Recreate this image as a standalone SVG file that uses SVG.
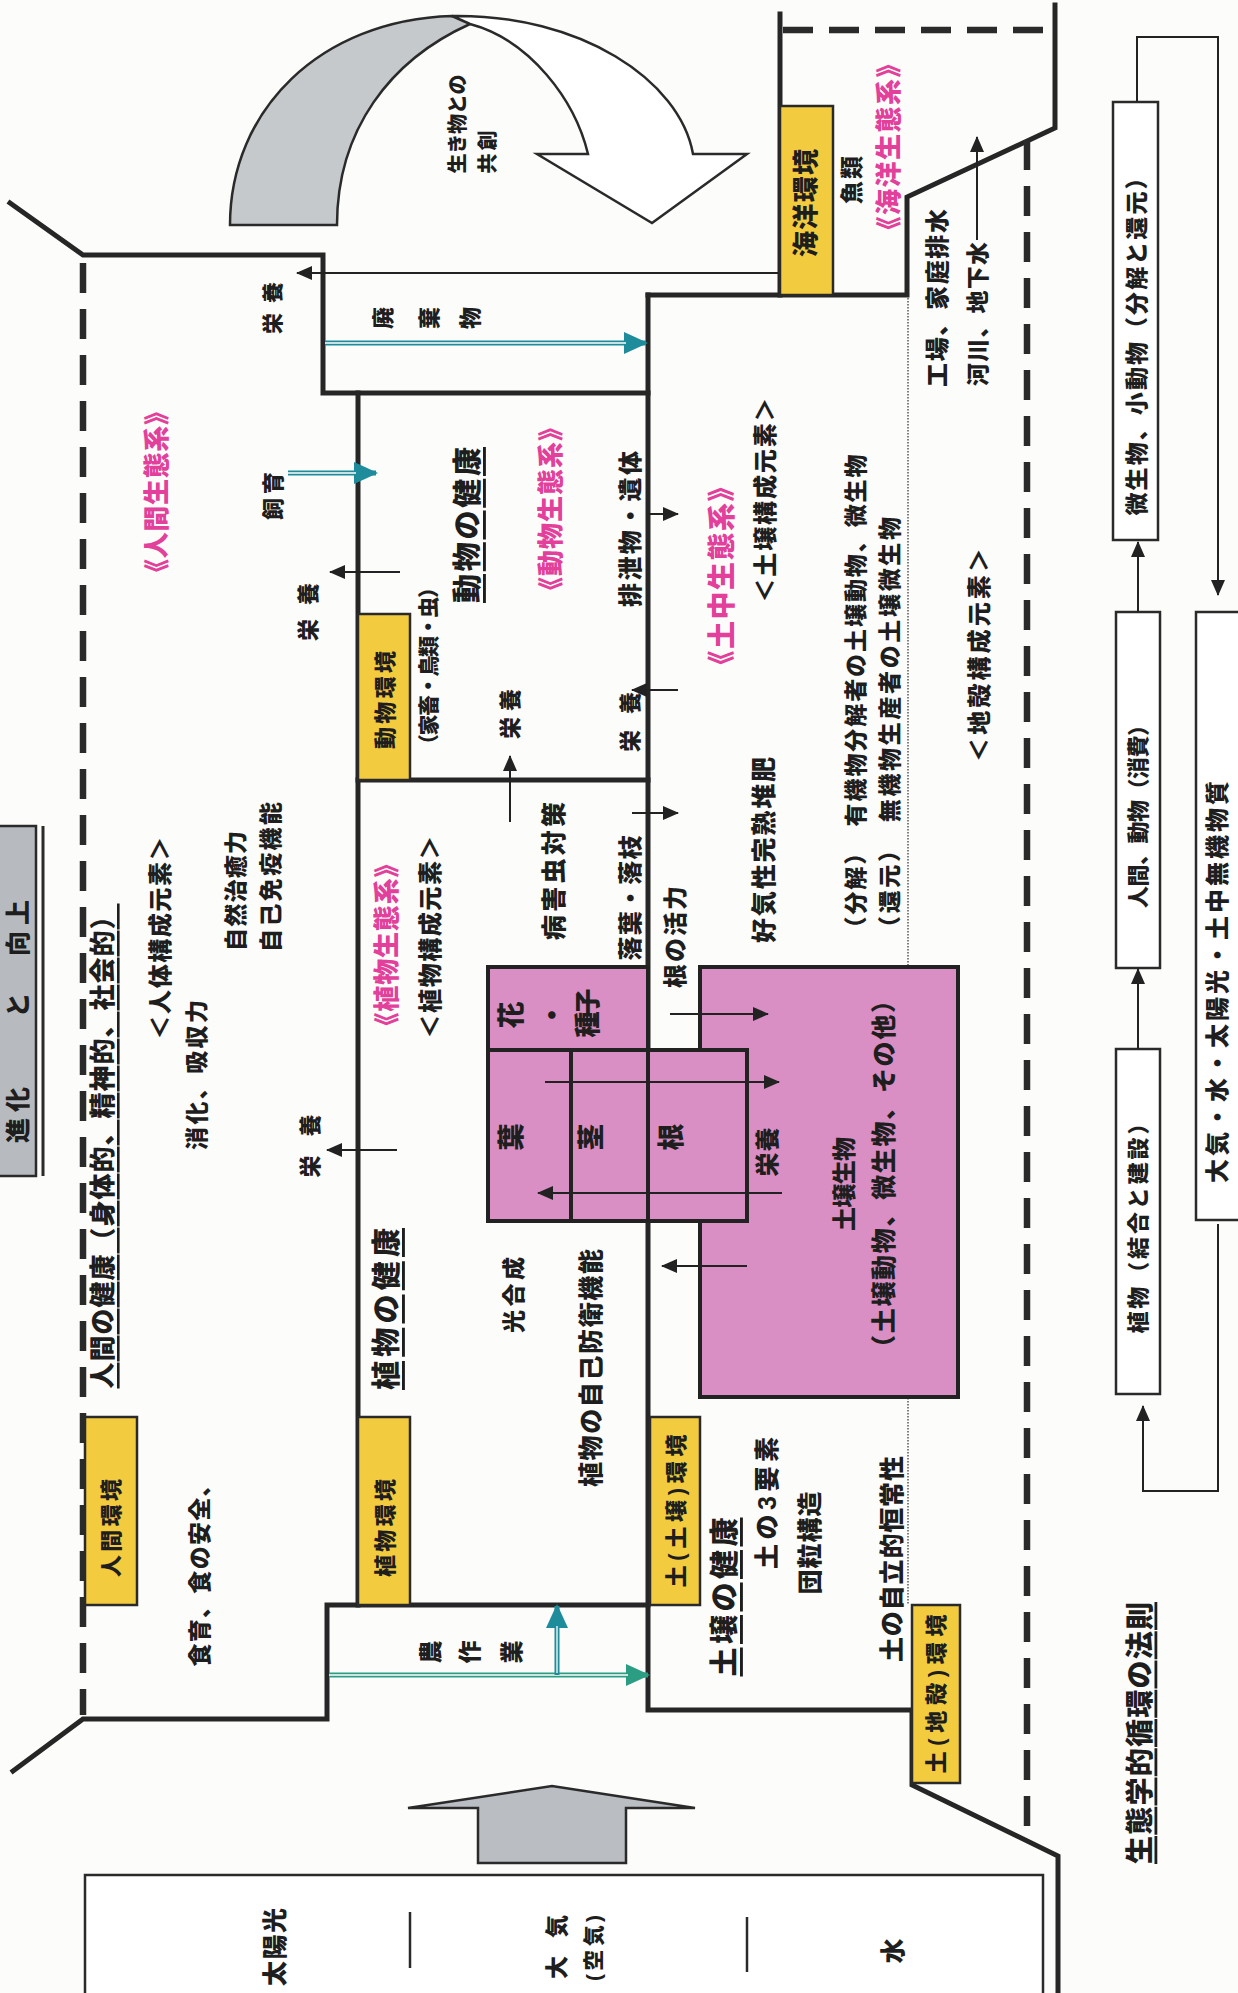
<svg xmlns="http://www.w3.org/2000/svg" width="1238" height="1993" viewBox="0 0 1238 1993">
<style>
.t{font-family:"Liberation Sans","Noto Sans CJK JP",sans-serif;font-weight:900;fill:#1e1e1e;text-anchor:middle;dominant-baseline:central}
.m{fill:#e2409a}
.u{text-decoration:underline}
.thick{fill:none;stroke:#262626;stroke-width:5;stroke-linejoin:miter;stroke-linecap:square}
.dash{fill:none;stroke:#2a2a2a;stroke-width:6.5;stroke-dasharray:30 16}
.dot{fill:none;stroke:#555;stroke-width:1.5;stroke-dasharray:1.5 1.5}
.yb{fill:#f2cb3f;stroke:#2a2a2a;stroke-width:2.5}
.pk{fill:#d98fc3;stroke:#222;stroke-width:4}
.wb{fill:#fff;stroke:#2a2a2a;stroke-width:2.5}
.ar{fill:none;stroke:#222;stroke-width:2;marker-end:url(#ah)}
.tl{fill:none;stroke:#1f8c9c;stroke-width:5;marker-end:url(#th)}
.gl{fill:none;stroke:#2a9d82;stroke-width:5;marker-end:url(#gh)}
.wl{fill:none;stroke:#fff;stroke-width:1.3}
</style>
<defs>
<marker id="ah" viewBox="0 0 16 14" refX="15" refY="7" markerWidth="16" markerHeight="14" markerUnits="userSpaceOnUse" orient="auto"><path d="M0,0 L16,7 L0,14 Z" fill="#222"/></marker>
<marker id="th" viewBox="0 0 24 22" refX="22" refY="11" markerWidth="24" markerHeight="22" markerUnits="userSpaceOnUse" orient="auto"><path d="M0,0 L24,11 L0,22 Z" fill="#1f8c9c"/></marker>
<marker id="gh" viewBox="0 0 24 22" refX="22" refY="11" markerWidth="24" markerHeight="22" markerUnits="userSpaceOnUse" orient="auto"><path d="M0,0 L24,11 L0,22 Z" fill="#2a9d82"/></marker>
</defs>
<rect width="1238" height="1993" fill="#fcfcfb"/>

<g id="curved-arrow">
<path d="M230,225 C230,110 320,20 452,16 C460,17 466,20 470,24 C390,60 337,130 337,225 Z" fill="#c5c9cc" stroke="#2a2a2a" stroke-width="2.5"/>
<path d="M452,16 C580,14 680,80 693,154 L747,154 L652,223 L537,154 L588,154 C575,100 530,40 470,24 Z" fill="#fff" stroke="#2a2a2a" stroke-width="2.5"/>
</g>

<g id="up-arrow">
<polygon points="408,1808 552,1786 695,1808 626,1808 626,1863 478,1863 478,1808" fill="#babec2" stroke="#2a2a2a" stroke-width="2.5"/>
</g>

<g id="evolution-box">
<rect x="-5" y="826" width="41" height="350" fill="#b7bbbf" stroke="#2a2a2a" stroke-width="2.5"/>
<line x1="43" y1="826" x2="43" y2="1176" stroke="#2a2a2a" stroke-width="3"/>
</g>

<g id="structure">
<path class="thick" d="M10,203 L83,255 L323,255 L323,393 L648,393"/>
<path class="thick" d="M358,393 L358,1605"/>
<path class="thick" d="M358,780 L648,780"/>
<path class="thick" d="M648,295 L648,1710 L912,1710 L912,1785 L1058,1856 L1058,1995"/>
<path class="thick" d="M648,295 L907,295 L907,197 L1055,128 L1055,5"/>
<path class="thick" d="M780,14 L780,295"/>
<path class="thick" d="M648,1605 L327,1605 L327,1719 L83,1719 L13,1771"/>
<path class="dash" d="M83,263 L83,1715"/>
<path class="dash" d="M1027,140 L1027,1842"/>
<path class="dash" d="M783,30 L1052,30"/>
<path class="dot" d="M908,298 L908,967 M908,1398 L908,1605"/>
</g>

<g id="env-boxes">
<rect id="human-env" class="yb" x="85" y="1417" width="52" height="188"/>
<rect id="plant-env" class="yb" x="358" y="1417" width="52" height="188"/>
<rect id="animal-env" class="yb" x="358" y="614" width="52" height="166"/>
<rect id="soil-env" class="yb" x="650" y="1417" width="50" height="188"/>
<rect id="crust-env" class="yb" x="912" y="1605" width="48" height="178"/>
<rect id="sea-env" class="yb" x="780" y="106" width="53" height="189"/>
</g>

<g id="pink-boxes">
<rect id="soil-organisms" class="pk" x="700" y="967" width="258" height="430"/>
<rect id="plant-parts" class="pk" x="488" y="967" width="160" height="254"/>
<rect id="root-box" class="pk" x="648" y="1050" width="99" height="171"/>
<line x1="488" y1="1050" x2="648" y2="1050" stroke="#222" stroke-width="4"/>
<line x1="571" y1="1050" x2="571" y2="1221" stroke="#222" stroke-width="4"/>
</g>

<g id="cycle-boxes">
<rect id="decomposers" class="wb" x="1113" y="102" width="45" height="438"/>
<rect id="consumers" class="wb" x="1116" y="612" width="44" height="356"/>
<rect id="producers" class="wb" x="1116" y="1049" width="44" height="345"/>
<rect id="abiotic" class="wb" x="1196" y="612" width="60" height="608"/>
</g>

<g id="source-box">
<rect class="wb" x="85" y="1875" width="958" height="130"/>
<line x1="410" y1="1912" x2="410" y2="1968" stroke="#2a2a2a" stroke-width="2.5"/>
<line x1="747" y1="1917" x2="747" y2="1972" stroke="#2a2a2a" stroke-width="2.5"/>
</g>

<g id="connectors">
<line class="ar" x1="778" y1="273" x2="297" y2="273"/>
<line class="ar" x1="400" y1="572" x2="330" y2="572"/>
<line class="ar" x1="397" y1="1150" x2="327" y2="1150"/>
<line class="ar" x1="510" y1="822" x2="510" y2="756"/>
<line class="ar" x1="678" y1="690" x2="632" y2="690"/>
<line class="ar" x1="648" y1="514" x2="678" y2="514"/>
<line class="ar" x1="632" y1="813" x2="678" y2="813"/>
<line class="ar" x1="670" y1="1014" x2="768" y2="1014"/>
<line class="ar" x1="545" y1="1082" x2="779" y2="1082"/>
<line class="ar" x1="782" y1="1193" x2="538" y2="1193"/>
<line class="ar" x1="747" y1="1266" x2="662" y2="1266"/>
<line class="ar" x1="977" y1="240" x2="977" y2="137"/>
<path class="ar" d="M1137,102 V37 H1218 V595"/>
<line class="ar" x1="1138" y1="612" x2="1138" y2="542"/>
<line class="ar" x1="1138" y1="1049" x2="1138" y2="969"/>
<path class="ar" d="M1218,1224 V1491 H1143 V1406"/>
<line class="tl" x1="325" y1="343" x2="646" y2="343"/>
<line class="wl" x1="325" y1="343" x2="626" y2="343"/>
<line class="tl" x1="288" y1="473" x2="376" y2="473"/>
<line class="wl" x1="288" y1="473" x2="356" y2="473"/>
<line class="gl" x1="329" y1="1675" x2="648" y2="1675"/>
<line class="wl" x1="329" y1="1675" x2="628" y2="1675"/>
<line class="tl" x1="557" y1="1675" x2="557" y2="1606"/>
<line class="wl" x1="557" y1="1673" x2="557" y2="1626"/>
</g>

<g id="labels">
<text class="t" font-size="21" textLength="52" transform="translate(272,308) rotate(-90)">栄養</text>
<text class="t" font-size="22" transform="translate(383,318) rotate(-90)">廃</text>
<text class="t" font-size="22" transform="translate(429,318) rotate(-90)">棄</text>
<text class="t" font-size="22" transform="translate(470,318) rotate(-90)">物</text>
<text class="t" font-size="20" textLength="99" transform="translate(458,124) rotate(-90)">生き物との</text>
<text class="t" font-size="20" textLength="43" transform="translate(488,152) rotate(-90)">共創</text>
<text class="t m" font-size="26" textLength="186" transform="translate(157,492) rotate(-90)">《人間生態系》</text>
<text class="t" font-size="22" textLength="48" transform="translate(273,496) rotate(-90)">飼育</text>
<text class="t" font-size="22" textLength="58" transform="translate(308,612) rotate(-90)">栄養</text>
<text class="t" font-size="22" textLength="98" transform="translate(385,700) rotate(-90)">動物環境</text>
<text class="t u" font-size="29" textLength="156" transform="translate(468,525) rotate(-90)">動物の健康</text>
<text class="t m" font-size="26" textLength="188" transform="translate(551,509) rotate(-90)">《動物生態系》</text>
<text class="t" font-size="21" textLength="178" transform="translate(428,666) rotate(-90)">（家畜・鳥類・虫）</text>
<text class="t" font-size="24" textLength="156" transform="translate(630,529) rotate(-90)">排泄物・遺体</text>
<text class="t m" font-size="28" textLength="205" transform="translate(722,576) rotate(-90)">《土中生態系》</text>
<text class="t" font-size="24" textLength="205" transform="translate(765,500) rotate(-90)">＜土壌構成元素＞</text>
<text class="t" font-size="26" textLength="108" transform="translate(806,203) rotate(-90)">海洋環境</text>
<text class="t" font-size="23" textLength="48" transform="translate(852,180) rotate(-90)">魚類</text>
<text class="t m" font-size="26" textLength="191" transform="translate(889,147) rotate(-90)">《海洋生態系》</text>
<text class="t" font-size="24" textLength="178" transform="translate(937,298) rotate(-90)">工場、家庭排水</text>
<text class="t" font-size="23" textLength="144" transform="translate(978,314) rotate(-90)">河川、地下水</text>
<text class="t" font-size="23" textLength="485" transform="translate(856,697) rotate(-90)">（分解）　有機物分解者の土壌動物、微生物</text>
<text class="t" font-size="23" textLength="422" transform="translate(890,728) rotate(-90)">（還元）　無機物生産者の土壌微生物</text>
<text class="t" font-size="24" textLength="214" transform="translate(979,655) rotate(-90)">＜地殻構成元素＞</text>
<text class="t" font-size="24" textLength="203" transform="translate(160,938) rotate(-90)">＜人体構成元素＞</text>
<text class="t" font-size="23" textLength="120" transform="translate(236,891) rotate(-90)">自然治癒力</text>
<text class="t" font-size="23" textLength="150" transform="translate(271,877) rotate(-90)">自己免疫機能</text>
<text class="t" font-size="23" textLength="150" transform="translate(197,1075) rotate(-90)">消化、吸収力</text>
<text class="t" font-size="22" textLength="63" transform="translate(310,1146) rotate(-90)">栄養</text>
<text class="t u" font-size="26" textLength="485" transform="translate(103,1146) rotate(-90)">人間の健康（身体的、精神的、社会的）</text>
<text class="t" font-size="25" textLength="56" transform="translate(18,1115) rotate(-90)">進化</text>
<text class="t" font-size="25" transform="translate(18,1005) rotate(-90)">と</text>
<text class="t" font-size="25" textLength="56" transform="translate(18,928) rotate(-90)">向上</text>
<text class="t m" font-size="26" textLength="187" transform="translate(387,945) rotate(-90)">《植物生態系》</text>
<text class="t" font-size="24" textLength="203" transform="translate(430,937) rotate(-90)">＜植物構成元素＞</text>
<text class="t" font-size="22" textLength="50" transform="translate(510,714) rotate(-90)">栄養</text>
<text class="t" font-size="25" textLength="138" transform="translate(554,871) rotate(-90)">病害虫対策</text>
<text class="t" font-size="24" textLength="125" transform="translate(630,898) rotate(-90)">落葉・落枝</text>
<text class="t" font-size="22" textLength="60" transform="translate(630,722) rotate(-90)">栄養</text>
<text class="t" font-size="24" textLength="102" transform="translate(675,937) rotate(-90)">根の活力</text>
<text class="t" font-size="25" textLength="186" transform="translate(764,850) rotate(-90)">好気性完熟堆肥</text>
<text class="t" font-size="27" transform="translate(512,1015) rotate(-90)">花</text>
<text class="t" font-size="27" transform="translate(553,1015) rotate(-90)">・</text>
<text class="t" font-size="26" textLength="49" transform="translate(588,1013) rotate(-90)">種子</text>
<text class="t" font-size="27" transform="translate(512,1137) rotate(-90)">葉</text>
<text class="t" font-size="27" transform="translate(592,1137) rotate(-90)">茎</text>
<text class="t" font-size="27" transform="translate(672,1137) rotate(-90)">根</text>
<text class="t" font-size="24" textLength="49" transform="translate(767,1152) rotate(-90)">栄養</text>
<text class="t" font-size="24" textLength="94" transform="translate(844,1184) rotate(-90)">土壌生物</text>
<text class="t" font-size="25" textLength="372" transform="translate(884,1174) rotate(-90)">（土壌動物、微生物、その他）</text>
<text class="t" font-size="23" textLength="76" transform="translate(514,1295) rotate(-90)">光合成</text>
<text class="t" font-size="25" textLength="238" transform="translate(591,1368) rotate(-90)">植物の自己防衛機能</text>
<text class="t u" font-size="29" textLength="162" transform="translate(387,1309) rotate(-90)">植物の健康</text>
<text class="t" font-size="22" textLength="98" transform="translate(111,1528) rotate(-90)">人間環境</text>
<text class="t" font-size="22" textLength="98" transform="translate(385,1528) rotate(-90)">植物環境</text>
<text class="t" font-size="22" textLength="153" transform="translate(676,1511) rotate(-90)">土(土壌)環境</text>
<text class="t" font-size="23" textLength="193" transform="translate(200,1570) rotate(-90)">食育、食の安全、</text>
<text class="t" font-size="23" transform="translate(431,1652) rotate(-90)">農</text>
<text class="t" font-size="23" transform="translate(470,1652) rotate(-90)">作</text>
<text class="t" font-size="23" transform="translate(512,1652) rotate(-90)">業</text>
<text class="t u" font-size="29" textLength="159" transform="translate(725,1597) rotate(-90)">土壌の健康</text>
<text class="t" font-size="25" textLength="132" transform="translate(767,1503) rotate(-90)">土の3要素</text>
<text class="t" font-size="25" textLength="103" transform="translate(810,1543) rotate(-90)">団粒構造</text>
<text class="t" font-size="25" textLength="206" transform="translate(892,1559) rotate(-90)">土の自立的恒常性</text>
<text class="t" font-size="22" textLength="159" transform="translate(936,1694) rotate(-90)">土(地殻)環境</text>
<text class="t u" font-size="28" textLength="262" transform="translate(1140,1733) rotate(-90)">生態学的循環の法則</text>
<text class="t" font-size="25" textLength="78" transform="translate(275,1947) rotate(-90)">太陽光</text>
<text class="t" font-size="23" textLength="64" transform="translate(557,1947) rotate(-90)">大　気</text>
<text class="t" font-size="21" textLength="66" transform="translate(593,1948) rotate(-90)">(空気)</text>
<text class="t" font-size="25" transform="translate(893,1951) rotate(-90)">水</text>
<text class="t" font-size="23" textLength="349" transform="translate(1137,341) rotate(-90)">微生物、小動物（分解と還元）</text>
<text class="t" font-size="22" textLength="194" transform="translate(1138,811) rotate(-90)">人間、動物（消費）</text>
<text class="t" font-size="22" textLength="221" transform="translate(1138,1223) rotate(-90)">植物（結合と建設）</text>
<text class="t" font-size="24" textLength="402" transform="translate(1217,982) rotate(-90)">大気・水・太陽光・土中無機物質</text>
</g>
</svg>
